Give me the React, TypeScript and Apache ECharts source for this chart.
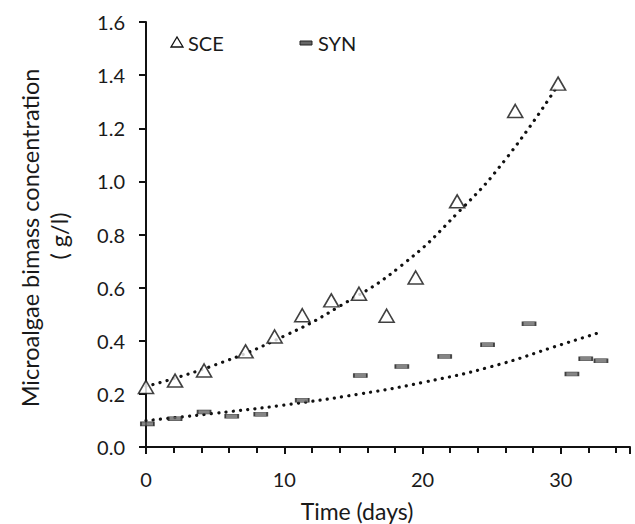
import React, { useEffect, useRef } from "react";
import * as echarts from "echarts";

const sceDays = [0, 2.1, 4.2, 7.2, 9.3, 11.3, 13.4, 15.4, 17.4, 19.5, 22.5, 26.7, 29.8];
const sceValues = [0.226, 0.25, 0.288, 0.36, 0.416, 0.496, 0.552, 0.577, 0.494, 0.638, 0.925, 1.265, 1.368];

const synDays = [0.1, 2.1, 4.2, 6.2, 8.3, 11.3, 15.5, 18.5, 21.6, 24.7, 27.7, 30.8, 31.8, 32.9];
const synValues = [0.087, 0.106, 0.132, 0.116, 0.123, 0.176, 0.269, 0.303, 0.341, 0.385, 0.464, 0.275, 0.332, 0.325];

// trend curves
const sceTrendDays = [0, 5, 10, 14, 18.4, 22.7, 26, 29.6];
const sceTrendValues = [0.228, 0.309, 0.418, 0.53, 0.68, 0.89, 1.083, 1.347];
const synTrendDays = [0, 5, 10, 15.5, 20, 25, 30, 32.8];
const synTrendValues = [0.099, 0.127, 0.158, 0.2, 0.243, 0.303, 0.385, 0.431];

const yTicks = [0, 0.2, 0.4, 0.6, 0.8, 1.0, 1.2, 1.4, 1.6];
const legendNames = ["SCE", "SYN"];

const FONT = "Lato";
const TXT = "#1a1a1a";

const zip = (a: number[], b: number[]) => a.map((v, i) => [v, b[i]]);

export default function App() {
  const ref = useRef<HTMLDivElement>(null);
  useEffect(() => {
    if (!ref.current) return;
    document.body.style.margin = "0";
    const chart = echarts.init(ref.current, undefined, { renderer: "svg" });
    const dotted = {
      color: "#111",
      width: 3.2,
      type: [0.1, 7.2] as any,
      cap: "round" as any,
    };
    chart.setOption({
      animation: false,
      backgroundColor: "#fff",
      grid: { left: 146, right: 5, top: 22, bottom: 77 },
      textStyle: { fontFamily: FONT },
      xAxis: {
        type: "value",
        min: 0,
        max: 35,
        interval: 10,
        axisLine: { show: true, lineStyle: { color: "#111", width: 2 } },
        axisTick: { show: true, length: 7, lineStyle: { color: "#111", width: 2 } },
        minorTick: { show: true, splitNumber: 5, length: 6, lineStyle: { color: "#111", width: 2 } },
        splitLine: { show: false },
        axisLabel: { fontFamily: FONT, fontSize: 20, color: TXT, margin: 22, showMaxLabel: false },
      },
      yAxis: {
        type: "value",
        min: 0,
        max: 1.6,
        interval: 0.2,
        axisLine: { show: true, lineStyle: { color: "#111", width: 2 } },
        axisTick: { show: true, length: 7, lineStyle: { color: "#111", width: 2 } },
        splitLine: { show: false },
        axisLabel: {
          fontFamily: FONT,
          fontSize: 20,
          color: TXT,
          margin: 21,
          formatter: (v: number) => {
            const t = yTicks.find((x) => Math.abs(x - v) < 1e-6);
            return (t !== undefined ? t : v).toFixed(1);
          },
        },
      },
      graphic: [
        {
          type: "text",
          x: 357,
          y: 511,
          style: {
            text: "Time (days)",
            fontFamily: FONT,
            fontSize: 23,
            fill: TXT,
            align: "center",
            verticalAlign: "middle",
          },
        },
        {
          type: "text",
          x: 30,
          y: 238,
          rotation: Math.PI / 2,
          style: {
            text: "Microalgae bimass concentration",
            fontFamily: FONT,
            fontSize: 23.5,
            fill: TXT,
            align: "center",
            verticalAlign: "middle",
          },
        },
        {
          type: "text",
          x: 59,
          y: 236,
          rotation: Math.PI / 2,
          style: {
            text: "( g/l)",
            fontFamily: FONT,
            fontSize: 23.5,
            fill: TXT,
            align: "center",
            verticalAlign: "middle",
          },
        },
        {
          type: "polygon",
          shape: { points: [[171, 47], [183, 47], [177, 37]] },
          style: { fill: "#fff", stroke: "#111", lineWidth: 1.3 },
        },
        {
          type: "text",
          x: 188,
          y: 43,
          style: { text: legendNames[0], fontFamily: FONT, fontSize: 20, fill: TXT, verticalAlign: "middle" },
        },
        {
          type: "rect",
          shape: { x: 300, y: 41, width: 12, height: 4 },
          style: { fill: "#666", stroke: "#222", lineWidth: 1 },
        },
        {
          type: "text",
          x: 318,
          y: 43,
          style: { text: legendNames[1], fontFamily: FONT, fontSize: 20, fill: TXT, verticalAlign: "middle" },
        },
      ],
      series: [
        {
          name: "SCE trend",
          type: "line",
          data: zip(sceTrendDays, sceTrendValues),
          smooth: 0.5,
          showSymbol: false,
          symbol: "none",
          lineStyle: dotted,
          z: 1,
          silent: true,
        },
        {
          name: "SYN trend",
          type: "line",
          data: zip(synTrendDays, synTrendValues),
          smooth: 0.5,
          showSymbol: false,
          symbol: "none",
          lineStyle: dotted,
          z: 1,
          silent: true,
        },
        {
          name: "SCE",
          type: "scatter",
          data: zip(sceDays, sceValues),
          symbol: "triangle",
          symbolSize: [15, 13],
          itemStyle: { color: "#fff", borderColor: "#111", borderWidth: 1.6 },
          z: 3,
        },
        {
          name: "SYN",
          type: "scatter",
          data: zip(synDays, synValues),
          symbol: "rect",
          symbolSize: [13, 4],
          itemStyle: { color: "#666", borderColor: "#222", borderWidth: 1 },
          z: 3,
        },
      ],
    });
    return () => chart.dispose();
  }, []);
  return <div ref={ref} style={{ width: 635, height: 524 }} />;
}
